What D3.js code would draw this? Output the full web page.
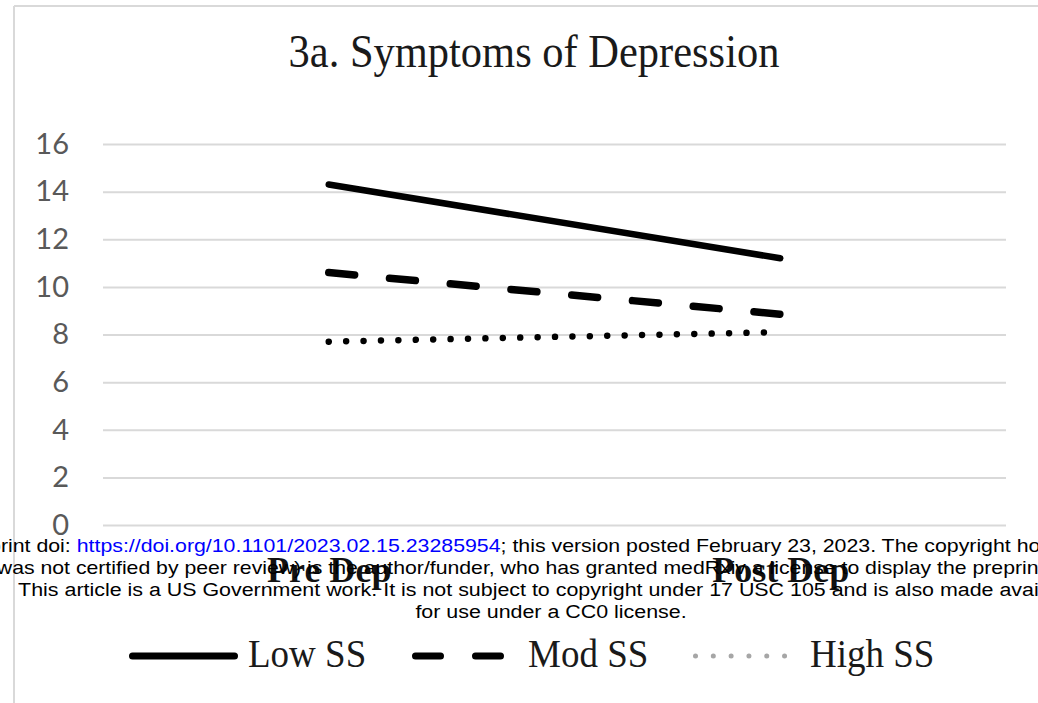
<!DOCTYPE html>
<html>
<head>
<meta charset="utf-8">
<script src="https://cdn.jsdelivr.net/npm/d3@7"></script>
<style>
  html, body { margin: 0; padding: 0; background: #fff; }
  svg { display: block; }
</style>
</head>
<body>
<svg id="chart" width="1038" height="703"></svg>
<script>
// ---- data ----
const title = "3a. Symptoms of Depression";
const categories = ["Pre Dep", "Post Dep"];
const seriesNames = ["Low SS", "Mod SS", "High SS"];
const lowSS = [14.3, 11.2];
const modSS = [10.6, 8.85];
const highSS = [7.7, 8.1];
const yTicks = [0, 2, 4, 6, 8, 10, 12, 14, 16];
const noticeLines = [
  "medRxiv preprint doi: https://doi.org/10.1101/2023.02.15.23285954; this version posted February 23, 2023. The copyright holder for this preprint",
  "(which was not certified by peer review) is the author/funder, who has granted medRxiv a license to display the preprint in perpetuity.",
  "This article is a US Government work. It is not subject to copyright under 17 USC 105 and is also made available",
  "for use under a CC0 license."
];

const W = 1038, H = 703;
const svg = d3.select("#chart");
const plotLeft = 103, plotRight = 1006, plotTop = 144, plotBottom = 525;

// frame
svg.append("line").attr("x1", 14).attr("x2", W).attr("y1", 6).attr("y2", 6)
  .attr("stroke", "#d9d9d9").attr("stroke-width", 2);
svg.append("line").attr("x1", 14).attr("x2", 14).attr("y1", 6).attr("y2", H)
  .attr("stroke", "#d9d9d9").attr("stroke-width", 2);

// title
svg.append("text")
  .attr("transform", "translate(534,67) scale(1,1.1)")
  .attr("text-anchor", "middle")
  .attr("font-family", "'Liberation Serif', 'Times New Roman', serif")
  .attr("font-size", 42.5).attr("fill", "#1a1a1a")
  .text(title);

const x = d3.scalePoint().domain(categories).range([plotLeft, plotRight]).padding(0.5);
const y = d3.scaleLinear().domain([0, 16]).range([plotBottom, plotTop]);

// y axis with gridlines
const yAxis = svg.append("g").attr("transform", `translate(${plotLeft},0)`)
  .call(d3.axisLeft(y).tickValues(yTicks).tickSize(-(plotRight - plotLeft)).tickPadding(34).tickFormat(d3.format("d")));
yAxis.select(".domain").remove();
yAxis.selectAll(".tick line").attr("stroke", "#d9d9d9").attr("stroke-width", 2);
yAxis.selectAll(".tick text").attr("font-family", "Lato, 'Open Sans', sans-serif")
  .attr("font-size", 29).attr("fill", "#595959");

// x axis labels
const xAxis = svg.append("g").attr("transform", `translate(0,${plotBottom})`)
  .call(d3.axisBottom(x).tickSize(0).tickPadding(31));
xAxis.select(".domain").remove();
xAxis.selectAll(".tick text")
  .attr("font-family", "'Liberation Serif', 'Times New Roman', serif")
  .attr("font-weight", "bold").attr("font-size", 36).attr("fill", "#111");

// series lines
const series = [
  { name: seriesNames[0], values: lowSS, width: 6.5, dash: null, color: "#000" },
  { name: seriesNames[1], values: modSS, width: 7.5, dash: "26,35", color: "#000" },
  { name: seriesNames[2], values: highSS, width: 6.5, dash: "0.01,17.4", color: "#000" }
];
const line = d3.line().x((d, i) => x(categories[i])).y(d => y(d));
svg.append("g").selectAll("path").data(series).join("path")
  .attr("d", d => line(d.values))
  .attr("fill", "none")
  .attr("stroke", d => d.color)
  .attr("stroke-width", d => d.width)
  .attr("stroke-linecap", "round")
  .attr("stroke-dasharray", d => d.dash);

// notice overlay (wide sans text)
const note = svg.append("g").attr("font-family", "'Liberation Sans', Arial, sans-serif")
  .attr("font-size", 18).attr("fill", "#000");
function measure(str, sx) {
  const t = note.append("text").text(str);
  const w = t.node().getComputedTextLength() * sx;
  t.remove();
  return w;
}
const noteBase = [552, 574, 596, 618];
const sx1 = 1.185, sx2 = 1.18, sx3 = 1.19;
const line1Start = 1 - measure("medRxiv prep", sx1);
const line2Start = -9 - measure("(which ", sx2);
const noteCenter = 551;
const urlText = "https://doi.org/10.1101/2023.02.15.23285954";
{
  const parts = noticeLines[0].split(urlText);
  const t = note.append("text").attr("transform", `translate(${line1Start},${noteBase[0]}) scale(${sx1},1)`);
  t.append("tspan").text(parts[0]);
  t.append("tspan").attr("fill", "#0000ff").text(urlText);
  t.append("tspan").text(parts[1]);
}
note.append("text")
  .attr("transform", `translate(${line2Start},${noteBase[1]}) scale(${sx2},1)`)
  .text(noticeLines[1]);
for (let i = 2; i < noticeLines.length; i++) {
  note.append("text")
    .attr("text-anchor", "middle")
    .attr("transform", `translate(${noteCenter},${noteBase[i]}) scale(${sx3},1)`)
    .text(noticeLines[i]);
}

// legend
const lg = svg.append("g");
const legY = 656;
lg.append("line").attr("x1", 132.5).attr("x2", 234.5).attr("y1", legY).attr("y2", legY)
  .attr("stroke", "#000").attr("stroke-width", 7).attr("stroke-linecap", "round");
lg.append("line").attr("x1", 415.5).attr("x2", 501.5).attr("y1", legY).attr("y2", legY)
  .attr("stroke", "#000").attr("stroke-width", 7).attr("stroke-linecap", "round")
  .attr("stroke-dasharray", "25,35");
lg.append("line").attr("x1", 695.5).attr("x2", 786).attr("y1", legY).attr("y2", legY)
  .attr("stroke", "#a6a6a6").attr("stroke-width", 5).attr("stroke-linecap", "round")
  .attr("stroke-dasharray", "0.01,17.8");
const legText = [[248, seriesNames[0]], [528, seriesNames[1]], [810, seriesNames[2]]];
lg.selectAll("text").data(legText).join("text")
  .attr("transform", d => `translate(${d[0]},667) scale(1,1.08)`)
  .attr("font-family", "'Liberation Serif', 'Times New Roman', serif")
  .attr("font-size", 37).attr("fill", "#1a1a1a")
  .text(d => d[1]);
</script>
</body>
</html>
